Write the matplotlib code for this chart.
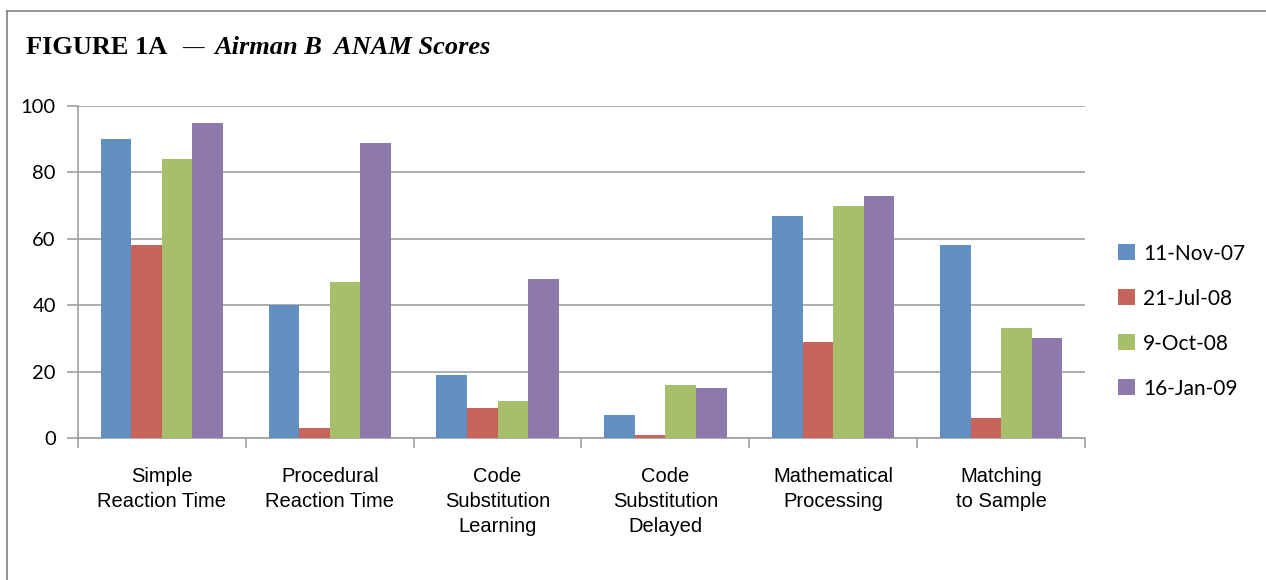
import numpy as np
import matplotlib
matplotlib.use("Agg")
import matplotlib.pyplot as plt
from matplotlib.lines import Line2D

categories = ["Simple\nReaction Time", "Procedural\nReaction Time", "Code\nSubstitution\nLearning",
              "Code\nSubstitution\nDelayed", "Mathematical\nProcessing", "Matching\nto Sample"]
dates = ["11-Nov-07", "21-Jul-08", "9-Oct-08", "16-Jan-09"]
nov07 = [90, 40, 19, 7, 67, 58]
jul08 = [58, 3, 9, 1, 29, 6]
oct08 = [84, 47, 11, 16, 70, 33]
jan09 = [95, 89, 48, 15, 73, 30]
colors = ["#6190C0", "#C7655C", "#A7BE6B", "#8E79AD"]

series = [nov07, jul08, oct08, jan09]
grid_c = "#A0A0A0"

fig = plt.figure(figsize=(12.66, 5.8), dpi=100)
ax = fig.add_axes([78 / 1266, 1 - 438 / 580, (1085 - 78) / 1266, (438 - 106) / 580])

x = np.arange(len(categories))
w = 0.182
for i, (vals, c, lab) in enumerate(zip(series, colors, dates)):
    ax.bar(x + (i - 1.5) * w, vals, width=w, color=c, label=lab, zorder=3)

ax.set_xlim(-0.5, len(categories) - 0.5)
ax.set_ylim(0, 100)
ax.set_yticks(range(0, 101, 20))
ax.yaxis.grid(True, color=grid_c, linewidth=1.2, zorder=0)
ax.set_xticks(x)
ax.set_xticklabels(categories, fontfamily="Liberation Sans", fontsize=14.5, linespacing=1.38)
ax.set_xticks(np.arange(-0.5, len(categories)), minor=True)
ax.tick_params(axis="x", which="major", length=0, pad=21)
ax.tick_params(axis="x", which="minor", length=7, color=grid_c, width=1.2)
ax.tick_params(axis="y", length=8, color=grid_c, width=1.2, pad=8, labelsize=14.5)
for t in ax.get_yticklabels():
    t.set_fontfamily("Lato")
for s in ["top", "right"]:
    ax.spines[s].set_visible(False)
for s in ["left", "bottom"]:
    ax.spines[s].set_color(grid_c)
    ax.spines[s].set_linewidth(1.2)

leg = ax.legend(loc="center left", bbox_to_anchor=(1.0, 0.352), frameon=False,
                prop={"family": "Lato", "size": 15}, handlelength=0.8, handleheight=0.8,
                labelspacing=1.2, handletextpad=0.4, borderaxespad=1.2)

ty = 1 - 47 / 580
fig.text(26 / 1266, ty, "FIGURE 1A", fontfamily="Liberation Serif",
         fontweight="bold", fontsize=19, va="center", ha="left")
fig.text(193 / 1266, ty - 0.004, "\u2014", fontfamily="Liberation Serif",
         fontweight="bold", fontsize=15.5, va="center", ha="center")
fig.text(214 / 1266, ty, "Airman B  ANAM Scores", fontfamily="Liberation Serif",
         fontweight="bold", fontstyle="italic", fontsize=19, va="center", ha="left")

fig.add_artist(Line2D([7 / 1266, 7 / 1266], [0, 1 - 11 / 580], color="#808080", linewidth=1.2))
fig.add_artist(Line2D([7 / 1266, 1], [1 - 11 / 580, 1 - 11 / 580], color="#808080", linewidth=1.2))

fig.savefig("out.png", dpi=100)
